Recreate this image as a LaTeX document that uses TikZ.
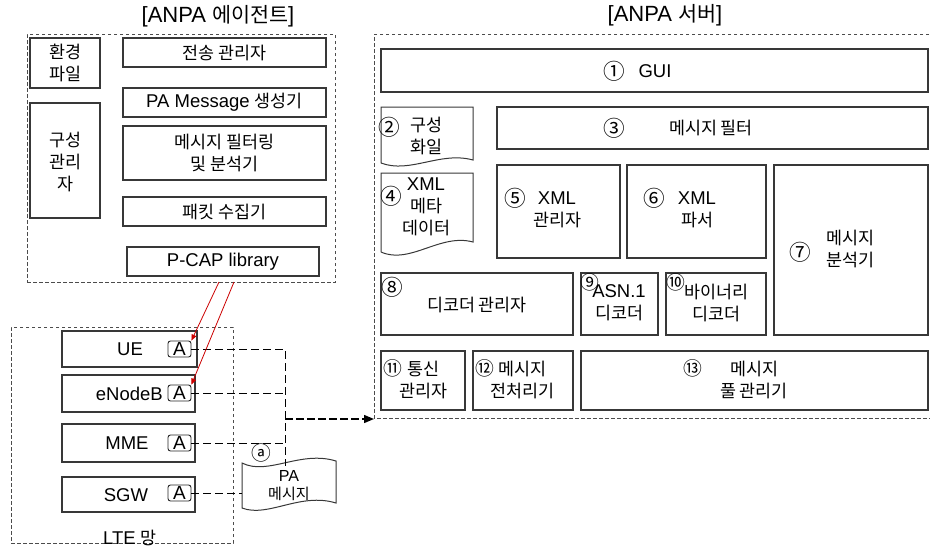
\documentclass[tikz,border=0pt]{standalone}
\usepackage{fontspec}
\setmainfont{Liberation Sans}
\newfontfamily\K[Scale=0.94]{Noto Sans CJK KR}
\usetikzlibrary{arrows.meta}
\newcommand\mkbox[6][box]{\node[#1, minimum width={#5pt-#3pt}, minimum height={#6pt-#4pt}] (#2) at ({(#3+#5)/2},{(#4+#6)/2}) {};}
\begin{document}
\begin{tikzpicture}[x=1pt,y=-1pt,
  every node/.style={font=\fontsize{18.5}{22}\selectfont, inner sep=0pt, align=center},
  box/.style={draw=black!78, line width=1.1pt},
  dbox/.style={draw=black!70, line width=0.8pt, dash pattern=on 3.5pt off 2.5pt},
  ttl/.style={font=\fontsize{22}{24}\selectfont},
  sm/.style={font=\fontsize{16}{18}\selectfont},
  cn/.style={font=\fontsize{23}{23}\selectfont\K},
  cns/.style={font=\fontsize{20}{20}\selectfont\K},
  abox/.style={draw=black!85, rounded corners=2.5pt, minimum width=23pt, minimum height=16pt, line width=0.9pt, font=\fontsize{19}{19}\selectfont},
  conn/.style={line width=0.9pt, dash pattern=on 8pt off 4pt},
  arr/.style={line width=1.4pt, dash pattern=on 8pt off 3pt, -{Triangle[length=10pt,width=8pt]}},
  redl/.style={draw=red!80!black, line width=0.8pt, -{Triangle[length=6pt,width=5pt]}},
  doc/.style={draw=black!78, line width=1pt, fill=white}
]
\clip (0,0) rectangle (930,547);
\fill[white] (0,0) rectangle (930,547);

% ---------------- ANPA agent ----------------
\node[ttl] (agentT) at (218,16) {[ANPA {\K 에이전트}]};
\mkbox[dbox]{agent}{27}{34}{335}{282}
\mkbox{env}{30}{38}{100}{88}
\mkbox{cfg}{30}{103}{100}{218}
\mkbox{send}{123}{38}{326}{67}
\mkbox{pagen}{123}{88}{326}{117}
\mkbox{filt}{123}{126}{326}{180}
\mkbox{pkt}{123}{197}{326}{226}
\mkbox{pcap}{127}{247}{319}{276}
\node (envT) at (env) {\K 환경\\\K 파일};
\node (cfgT) at (65,162) {\K 구성\\\K 관리\\\K 자};
\node (sendT) at (send) {\K 전송 관리자};
\node (pagenT) at (pagen) {PA Message {\K 생성기}};
\node (filtT) at (filt) {\K 메시지 필터링\\\K 및 분석기};
\node (pktT) at (pkt) {\K 패킷 수집기};
\node (pcapT) at (pcap) {P-CAP library};
\coordinate (r1) at (219,282);
\coordinate (r2) at (234,282);

% ---------------- ANPA server ----------------
\node[ttl] (srvT) at (665,15) {[ANPA {\K 서버}]};
\draw[dbox] (935,34) -- (374,34) -- (374,418) -- (935,418);
\coordinate (srvW) at (374,419);
\mkbox{gui}{381}{49}{928}{92}
\mkbox{mfilt}{497}{107}{928}{149}
\mkbox{xmlm}{497}{165}{620}{258}
\mkbox{xmlp}{627}{165}{766}{258}
\mkbox{ana}{774}{165}{928}{335}
\mkbox{decm}{381}{273}{573}{335}
\mkbox{asn}{581}{273}{658}{335}
\mkbox{bin}{666}{273}{766}{335}
\mkbox{comm}{381}{351}{465}{410}
\mkbox{pre}{473}{351}{573}{410}
\mkbox{pool}{581}{351}{928}{410}
% document shapes
\draw[doc] (381,163) -- (381,107) -- (473,107) -- (473,160) .. controls (440,151) and (410,174) .. (381,163);
\draw[doc] (381,252) -- (381,173) -- (473,173) -- (473,242) .. controls (440,233) and (410,265) .. (381,252);

\node[cn] (n1) at (614,71) {①};
\node (guiT) at (655,71) {GUI};
\node[cn] (n2) at (389,127) {②};
\node (cfgfT) at (426,136) {\K 구성\\\K 화일};
\node[cn] (n3) at (614,128) {③};
\node (mfiltT) at (711,128) {\K 메시지 필터};
\node[cn] (n4) at (391,196) {④};
\node (metaT) at (426,207) {XML\\{\K 메타}\\{\K 데이터}};
\node[cn] (n5) at (515,198) {⑤};
\node (xmlmT) at (557,210) {XML\\{\K 관리자}};
\node[cn] (n6) at (654,198) {⑥};
\node (xmlpT) at (697,210) {XML\\{\K 파서}};
\node[cn] (n7) at (800,252) {⑦};
\node (anaT) at (850,249) {\K 메시지\\\K 분석기};
\node[cn] (n8) at (392,287) {⑧};
\node (decmT) at (477,305) {\K 디코더 관리자};
\node[cns] (n9) at (590,282) {⑨};
\node (asnT) at (619,303) {ASN.1\\{\K 디코더}};
\node[cns] (n10) at (676,282) {⑩};
\node (binT) at (716,303) {\K 바이너리\\\K 디코더};
\node[cns] (n11) at (393,368) {⑪};
\node (commT) at (423,380) {\K 통신\\\K 관리자};
\node[cns] (n12) at (485,368) {⑫};
\node (preT) at (522,380) {\K 메시지\\\K 전처리기};
\node[cns] (n13) at (693,368) {⑬};
\node (poolT) at (754,380) {\K 메시지\\\K 풀 관리기};

% ---------------- LTE network ----------------
\mkbox[dbox]{lte}{11}{327}{233}{543}
\mkbox{ue}{62}{331}{197}{367}
\mkbox{enb}{62}{375}{195}{412}
\mkbox{mme}{62}{424}{195}{462}
\mkbox{sgw}{62}{477}{195}{512}
\node (ueT) at (130,349) {UE};
\node[anchor=east] (enbT) at (163,394) {eNodeB};
\node (mmeT) at (127,443) {MME};
\node (sgwT) at (126,495) {SGW};
\node[abox] (aUE) at (179.5,349) {A};
\node[abox] (aEN) at (179.5,393) {A};
\node[abox] (aMM) at (179.5,443) {A};
\node[abox] (aSG) at (179.5,493) {A};
\node (lteT) at (130,538) {LTE {\K 망}};

% PA message (punched tape)
\draw[doc] (242,463) .. controls (268,476) and (300,450) .. (336,461) -- (336,503) .. controls (300,492) and (268,518) .. (242,508) -- cycle;
\node[sm] (paT) at (289,486) {PA\\{\K 메시지}};
\node[font=\fontsize{21}{21}\selectfont\K] (na) at (261,453) {ⓐ};
\coordinate (jx) at (285,0);
\coordinate (paTop) at (285,466);
\coordinate (paL) at (242,493);

% connectors
\draw[conn] (aUE.east) -- (aUE.east -| jx) -- (paTop);
\draw[conn] (aEN.east) -- (aEN.east -| jx);
\draw[conn] (aMM.east) -- (aMM.east -| jx);
\draw[conn] (aSG.east) -- (paL);
\draw[arr] (jx |- srvW) -- (srvW);
\draw[redl] (r1) -- (aUE.north east);
\draw[redl] (r2) -- (aEN.north east);
\end{tikzpicture}
\end{document}
